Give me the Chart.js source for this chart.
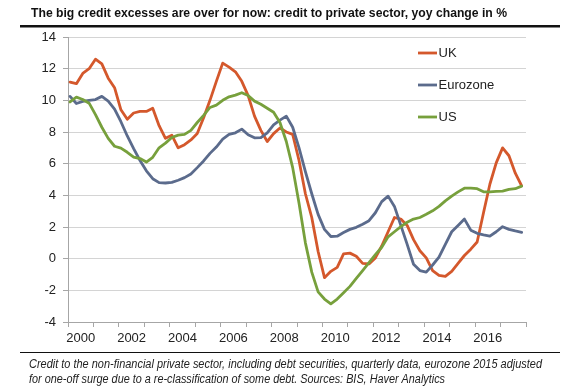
<!DOCTYPE html>
<html><head><meta charset="utf-8">
<script src="https://cdn.jsdelivr.net/npm/chart.js@4.4.1/dist/chart.umd.min.js"></script>
<style>html,body{margin:0;padding:0;background:#fff}#wrap{width:570px;height:386px;position:relative}</style>
</head><body><div id="wrap"><canvas id="c" width="570" height="386"></canvas></div>
<script>
const titleText = "The big credit excesses are over for now: credit to private sector, yoy change in %";
const footerLines = [
  "Credit to the non-financial private sector, including debt securities, quarterly data, eurozone 2015 adjusted",
  "for one-off surge due to a re-classification of some debt. Sources: BIS, Haver Analytics"
];
const seriesNames = ["UK", "Eurozone", "US"];
const years = [2000,2001,2002,2003,2004,2005,2006,2007,2008,2009,2010,2011,2012,2013,2014,2015,2016,2017];
const quarters = [];
years.forEach(y => { for (let q = 1; q <= 4; q++) quarters.push(y + "Q" + q); });
const xTickLabels = ["2000","2002","2004","2006","2008","2010","2012","2014","2016"];
const yTicks = [-4,-2,0,2,4,6,8,10,12,14];

const uk = [11.15,11.05,11.7,12.0,12.6,12.3,11.4,10.8,9.4,8.8,9.2,9.3,9.3,9.5,8.4,7.6,
  7.8,7.0,7.2,7.5,7.9,8.9,10.0,11.2,12.35,12.1,11.8,11.2,10.3,9.0,8.1,7.4,
  7.9,8.25,8.0,7.85,6.2,4.1,2.6,0.45,-1.2,-0.8,-0.55,0.3,0.35,0.15,-0.3,-0.33,
  0.05,0.8,1.7,2.6,2.5,2.1,1.2,0.5,0.05,-0.75,-1.05,-1.12,-0.8,-0.3,0.2,0.6,
  1.05,2.9,4.7,6.05,7.0,6.5,5.4,4.6];
const eurozone = [10.25,9.8,9.93,10.0,10.05,10.25,9.95,9.45,8.65,7.75,6.95,6.2,5.55,5.05,4.8,4.78,
  4.82,4.95,5.12,5.35,5.75,6.17,6.65,7.05,7.55,7.85,7.95,8.18,7.83,7.63,7.65,7.95,
  8.45,8.75,9.0,8.3,7.0,5.5,4.1,2.8,1.85,1.4,1.42,1.65,1.85,1.98,2.18,2.4,
  2.9,3.6,3.95,3.3,2.1,0.9,-0.35,-0.75,-0.85,-0.4,0.1,0.9,1.7,2.1,2.5,1.8,
  1.6,1.5,1.42,1.7,2.02,1.85,1.75,1.66];
const us = [9.9,10.2,10.05,9.82,9.1,8.3,7.6,7.1,6.98,6.72,6.42,6.32,6.1,6.4,7.0,7.3,
  7.65,7.8,7.85,8.1,8.6,9.05,9.55,9.7,10.0,10.22,10.33,10.48,10.3,9.95,9.75,9.5,
  9.25,8.6,7.4,5.75,3.5,1.0,-0.85,-2.1,-2.55,-2.85,-2.55,-2.15,-1.75,-1.25,-0.75,-0.25,
  0.25,0.72,1.38,1.7,2.02,2.3,2.5,2.6,2.8,3.02,3.3,3.65,3.95,4.22,4.45,4.46,
  4.42,4.22,4.22,4.25,4.27,4.38,4.42,4.58];

const colors = ["#D4582C", "#5B6B8C", "#77A03C"];
const seriesValues = [uk, eurozone, us];

function qx(label) {
  const y = parseInt(label.slice(0, 4), 10);
  const q = parseInt(label.slice(5), 10);
  return y + (q - 1) / 4 + 0.08;
}

const FONT = "'Liberation Sans', Arial, sans-serif";

const decor = {
  id: "decor",
  beforeDraw(chart) {
    const ctx = chart.ctx;
    ctx.save();
    ctx.fillStyle = "#fff";
    ctx.fillRect(0, 0, chart.width, chart.height);
    ctx.restore();
  },
  afterDraw(chart) {
    const ctx = chart.ctx;
    ctx.save();
    function fitText(text, x, y, target, font, color) {
      ctx.font = font;
      ctx.fillStyle = color;
      ctx.textBaseline = "middle";
      ctx.textAlign = "left";
      const w = ctx.measureText(text).width;
      ctx.save();
      ctx.translate(x, y);
      ctx.scale(target / w, 1);
      ctx.fillText(text, 0, 0);
      ctx.restore();
    }
    fitText(titleText, 31, 13, 476, "bold 13px " + FONT, "#111");
    ctx.fillStyle = "#111";
    ctx.fillRect(20, 25, 540, 2.5);
    ctx.fillRect(20, 352, 540, 1);
    fitText(footerLines[0], 29, 365, 513, "italic 12px " + FONT, "#222");
    fitText(footerLines[1], 29, 380, 416, "italic 12px " + FONT, "#222");
    // legend
    const ly = [53, 85, 117];
    seriesNames.forEach((n, i) => {
      ctx.strokeStyle = colors[i];
      ctx.lineWidth = 2.8;
      ctx.beginPath();
      ctx.moveTo(418, ly[i]);
      ctx.lineTo(437, ly[i]);
      ctx.stroke();
      ctx.font = "13px " + FONT;
      ctx.fillStyle = "#222";
      ctx.textBaseline = "middle";
      ctx.fillText(n, 438.5, ly[i] + 0.5);
    });
    ctx.restore();
  }
};

new Chart(document.getElementById("c"), {
  type: "line",
  data: {
    datasets: seriesNames.map((n, i) => ({
      label: n,
      data: quarters.map((q, k) => ({ x: qx(q), y: seriesValues[i][k] })),
      borderColor: colors[i],
      backgroundColor: colors[i],
      borderWidth: 2.8,
      pointRadius: 0,
      tension: 0,
      borderJoinStyle: "round",
      borderCapStyle: "round",
      order: 2 - i
    }))
  },
  options: {
    responsive: false,
    animation: false,
    devicePixelRatio: 1,
    layout: { padding: { top: 37, right: 44, left: 0, bottom: 0 } },
    plugins: { legend: { display: false }, title: { display: false }, tooltip: { enabled: false } },
    scales: {
      x: {
        type: "linear",
        min: 2000,
        max: 2018,
        afterBuildTicks(scale) {
          const t = [];
          for (let v = 2000; v <= 2018; v += 0.5) t.push({ value: v });
          scale.ticks = t;
        },
        afterFit(scale) { scale.height = 64; },
        ticks: {
          autoSkip: false,
          maxRotation: 0,
          padding: 4,
          color: "#222",
          font: { family: FONT, size: 13 },
          callback(v) {
            if (v % 1 === 0.5) {
              const idx = xTickLabels.indexOf(String(Math.floor(v)));
              return idx >= 0 ? xTickLabels[idx] : "";
            }
            return "";
          }
        },
        grid: {
          drawOnChartArea: false,
          tickLength: 5,
          color: (c) => (c.tick && c.tick.value % 1 === 0 ? "#a6a6a6" : "rgba(0,0,0,0)"),
          lineWidth: 1
        },
        border: { color: "#a6a6a6", width: 1 }
      },
      y: {
        min: -4,
        max: 14,
        afterBuildTicks(scale) { scale.ticks = yTicks.map(v => ({ value: v })); },
        afterFit(scale) { scale.width = 68; },
        ticks: { padding: 7, color: "#222", font: { family: FONT, size: 13 } },
        grid: { color: "#d4d4d4", tickColor: "#a6a6a6", tickLength: 5, lineWidth: 1 },
        border: { color: "#a6a6a6", width: 1 }
      }
    }
  },
  plugins: [decor]
});
</script>
</body></html>
